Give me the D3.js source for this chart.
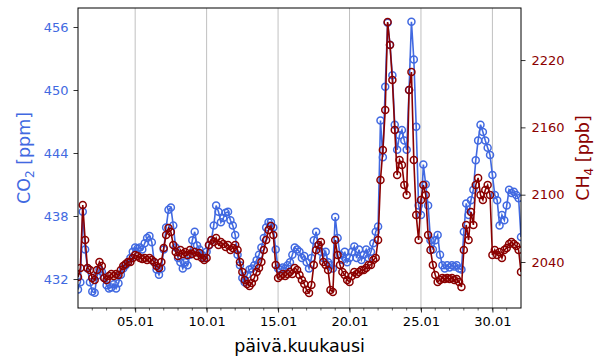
<!DOCTYPE html>
<html><head><meta charset="utf-8">
<script src="https://cdn.jsdelivr.net/npm/d3@7/dist/d3.min.js"></script>
<style>body{margin:0;background:#fff} svg{display:block} text{font-family:"DejaVu Sans",sans-serif}</style>
</head><body><svg id="c" width="600" height="360"></svg>
<script>
// Sampling: every 4 hours starting 01.01 00:00
const startDate = "2024-01-01T00:00:00Z";
const stepHours = 4;
const co2 = [
431.0,431.7,438.4,434.8,433.0,431.7,
430.8,430.7,432.3,432.9,432.7,432.1,
431.4,431.1,431.2,431.5,431.1,431.6,
432.4,433.0,433.3,433.6,434.0,434.6,
435.0,434.9,435.0,434.8,435.4,435.9,
436.1,435.5,433.6,432.9,432.4,433.0,
434.8,436.9,438.6,438.8,437.1,435.0,
434.0,433.6,433.0,433.6,433.3,434.3,
435.7,436.5,435.2,434.8,434.3,434.0,
434.6,435.2,435.7,437.1,439.0,438.4,
437.4,437.8,438.3,438.4,437.6,437.1,
436.2,434.3,433.3,432.1,431.7,432.4,
432.9,433.0,433.3,433.8,434.3,435.0,
435.9,436.9,437.4,437.4,436.9,434.8,
433.0,432.9,433.1,433.0,433.3,433.6,
434.3,435.0,434.8,434.6,434.0,434.2,
433.6,433.0,434.0,435.7,436.5,435.2,
434.6,434.0,434.6,433.6,433.3,433.0,
437.9,435.9,434.3,433.8,434.6,433.6,
434.0,434.6,435.1,434.0,434.8,433.8,
434.3,434.8,434.0,434.6,435.4,436.5,
437.0,447.1,443.6,450.3,456.4,454.3,
451.4,446.7,444.3,445.7,446.2,445.2,
444.3,450.0,456.5,452.9,446.5,439.0,
438.1,442.9,441.0,439.0,435.7,434.8,
435.7,436.2,434.3,433.3,433.0,433.3,
433.1,433.3,433.2,433.3,433.0,432.9,
436.5,439.2,438.1,439.5,440.5,443.3,
445.2,446.7,446.0,445.2,444.5,443.8,
441.9,440.0,439.5,437.1,438.1,437.6,
439.0,440.5,440.2,440.3,440.0,439.7,
436.0];
const ch4 = [
2026.6,2034.7,2090.8,2059.6,2034.7,2032.9,
2025.7,2024.0,2032.9,2040.0,2036.4,2025.7,
2024.0,2027.5,2029.3,2027.5,2029.3,2028.4,
2032.9,2036.4,2038.2,2040.0,2040.0,2043.6,
2046.2,2045.3,2043.6,2042.7,2043.6,2041.8,
2043.6,2041.8,2040.0,2036.4,2034.7,2040.0,
2052.5,2064.1,2070.3,2066.7,2055.2,2048.9,
2045.3,2050.7,2047.1,2048.9,2046.2,2050.7,
2047.1,2048.9,2045.3,2048.0,2043.6,2041.8,
2043.6,2055.2,2059.6,2057.8,2061.4,2055.2,
2057.8,2056.0,2053.4,2055.2,2050.7,2052.5,
2055.2,2050.7,2040.0,2031.1,2024.0,2020.4,
2018.6,2021.3,2025.7,2031.1,2034.7,2040.0,
2050.7,2059.6,2068.5,2072.1,2064.1,2037.3,
2025.7,2027.5,2029.3,2027.5,2029.3,2031.1,
2029.3,2034.7,2032.9,2028.4,2024.0,2020.4,
2015.0,2012.4,2019.5,2037.3,2050.7,2055.2,
2057.8,2040.0,2037.3,2032.9,2015.0,2013.3,
2059.6,2046.2,2037.3,2031.1,2028.4,2024.0,
2022.2,2027.5,2031.1,2029.3,2031.1,2032.9,
2032.9,2034.7,2037.3,2037.3,2041.8,2043.6,
2059.6,2113.1,2139.8,2175.5,2253.9,2233.4,
2202.2,2157.6,2117.5,2130.9,2126.5,2108.6,
2099.7,2193.3,2209.3,2130.9,2081.9,2059.6,
2095.3,2108.6,2099.7,2064.1,2050.7,2037.3,
2028.4,2022.2,2024.0,2025.7,2024.8,2025.7,
2024.8,2025.7,2024.0,2024.8,2022.2,2017.7,
2050.7,2073.0,2059.6,2084.6,2073.0,2108.6,
2114.9,2099.7,2095.3,2104.2,2108.6,2099.7,
2046.2,2050.7,2046.2,2048.9,2043.6,2050.7,
2052.5,2056.0,2057.8,2056.0,2054.3,2050.7,
2031.1];
const co2Ticks = [432, 438, 444, 450, 456];
const ch4Ticks = [2040, 2100, 2160, 2220];
const xTickDays = [5, 10, 15, 20, 25, 30];
const xLabel = "päivä.kuukausi";

const blue = "#4169e1", red = "#8b0000";
const m = {l: 78, r: 521, t: 8, b: 308};
const svg = d3.select("#c");
const t0 = new Date(startDate);
const times = co2.map((_, i) => new Date(t0.getTime() + i * stepHours * 3600e3));

const x = d3.scaleUtc().domain([t0, d3.utcMonth.offset(t0, 1)]).range([m.l, m.r]);
const yL = d3.scaleLinear().domain([429.24, 457.81]).range([m.b, m.t]);
const yR = d3.scaleLinear().domain([1999.0, 2266.4]).range([m.b, m.t]);

// grid
const majors = xTickDays.map(d => new Date(Date.UTC(t0.getUTCFullYear(), 0, d)));
svg.append("g").selectAll("line").data(majors).join("line")
  .attr("x1", d => x(d)).attr("x2", d => x(d)).attr("y1", m.t).attr("y2", m.b)
  .attr("stroke", "#b0b0b0").attr("stroke-width", 0.8);

svg.append("clipPath").attr("id", "clp").append("rect")
  .attr("x", m.l).attr("y", m.t).attr("width", m.r - m.l).attr("height", m.b - m.t);

function series(vals, yS, col) {
  const g = svg.append("g").attr("clip-path", "url(#clp)");
  const pts = vals.map((v, i) => [times[i], v]);
  g.append("path").datum(pts)
    .attr("d", d3.line().x(d => x(d[0])).y(d => yS(d[1])))
    .attr("fill", "none").attr("stroke", col).attr("stroke-width", 1.6);
  g.selectAll("circle").data(pts).join("circle")
    .attr("cx", d => x(d[0])).attr("cy", d => yS(d[1])).attr("r", 3.5)
    .attr("fill", "none").attr("stroke", col).attr("stroke-width", 1.5);
}
series(co2, yL, blue);
series(ch4, yR, red);

// frame
svg.append("rect").attr("x", m.l).attr("y", m.t).attr("width", m.r - m.l).attr("height", m.b - m.t)
  .attr("fill", "none").attr("stroke", "#000").attr("stroke-width", 1);

// x axis
const gx = svg.append("g").attr("transform", `translate(0,${m.b})`)
  .call(d3.axisBottom(x).tickValues(majors).tickFormat(d3.utcFormat("%d.%m")).tickSize(4.5).tickPadding(4));
const minors = d3.utcDay.range(t0, d3.utcMonth.offset(t0, 1)).slice(1);
svg.append("g").selectAll("line").data(minors).join("line")
  .attr("x1", d => x(d)).attr("x2", d => x(d)).attr("y1", m.b).attr("y2", m.b + 2.5)
  .attr("stroke", "#000").attr("stroke-width", 0.6);

// left axis
const gl = svg.append("g").attr("transform", `translate(${m.l},0)`)
  .call(d3.axisLeft(yL).tickValues(co2Ticks).tickFormat(d3.format("d")).tickSize(4.5).tickPadding(5));
gl.selectAll("text").attr("fill", blue);
// right axis
const gr = svg.append("g").attr("transform", `translate(${m.r},0)`)
  .call(d3.axisRight(yR).tickValues(ch4Ticks).tickFormat(d3.format("d")).tickSize(4.5).tickPadding(6));
gr.selectAll("text").attr("fill", red);

[gx, gl, gr].forEach(g => {
  g.select(".domain").remove();
  g.selectAll("text").attr("font-size", 13).attr("font-family", "DejaVu Sans");
  g.selectAll(".tick line").attr("stroke", "#000").attr("stroke-width", 0.8);
});
gx.selectAll("text").attr("fill", "#000");

// labels
svg.append("text").attr("x", (m.l + m.r) / 2).attr("y", 352).attr("text-anchor", "middle")
  .attr("font-size", 17.5).attr("fill", "#000").text(xLabel);

const ll = svg.append("text").attr("transform", `translate(30,${(m.t + m.b) / 2}) rotate(-90)`)
  .attr("text-anchor", "middle").attr("font-size", 17.5).attr("fill", blue);
ll.append("tspan").text("CO");
ll.append("tspan").attr("font-size", 12).attr("dy", 4).text("2");
ll.append("tspan").attr("dy", -4).text(" [ppm]");

const rl = svg.append("text").attr("transform", `translate(589,${(m.t + m.b) / 2}) rotate(-90)`)
  .attr("text-anchor", "middle").attr("font-size", 17.5).attr("fill", red);
rl.append("tspan").text("CH");
rl.append("tspan").attr("font-size", 12).attr("dy", 4).text("4");
rl.append("tspan").attr("dy", -4).text(" [ppb]");
</script></body></html>
